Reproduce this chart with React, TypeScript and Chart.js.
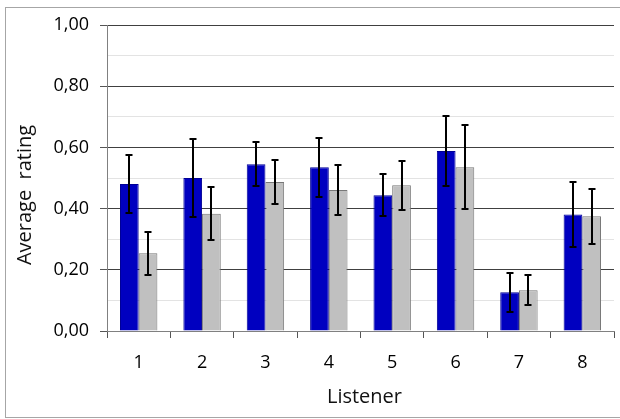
import React, { useEffect, useRef } from "react";
import { Chart, registerables } from "chart.js";

Chart.register(...registerables);

// Listener categories along the x axis
const listeners = ["1", "2", "3", "4", "5", "6", "7", "8"];

// Average ratings, first condition (blue) with its error half-widths
const ratingsA = [0.48, 0.5, 0.545, 0.535, 0.444, 0.588, 0.127, 0.381];
const errorsA = [0.096, 0.128, 0.072, 0.097, 0.069, 0.115, 0.064, 0.105];

// Average ratings, second condition (grey) with its error half-widths
const ratingsB = [0.254, 0.383, 0.487, 0.461, 0.476, 0.535, 0.133, 0.375];
const errorsB = [0.071, 0.087, 0.073, 0.082, 0.08, 0.137, 0.049, 0.09];

const yTitle = "Average  rating";
const xTitle = "Listener";

const FONT = "'Open Sans', 'DejaVu Sans', sans-serif";

const errorBarPlugin = {
  id: "errorBars",
  afterDatasetsDraw(chart: any) {
    const ctx = chart.ctx;
    const yScale = chart.scales.y;
    ctx.save();
    ctx.strokeStyle = "#000";
    ctx.lineWidth = 2;
    chart.data.datasets.forEach((ds: any, di: number) => {
      const meta = chart.getDatasetMeta(di);
      meta.data.forEach((bar: any, i: number) => {
        const v = ds.data[i];
        const e = ds.errors[i];
        const x = Math.round(bar.x);
        const top = Math.round(yScale.getPixelForValue(v + e));
        const bot = Math.round(yScale.getPixelForValue(v - e));
        ctx.beginPath();
        ctx.moveTo(x, top);
        ctx.lineTo(x, bot);
        ctx.moveTo(x - 3.5, top);
        ctx.lineTo(x + 3.5, top);
        ctx.moveTo(x - 3.5, bot);
        ctx.lineTo(x + 3.5, bot);
        ctx.stroke();
      });
    });
    ctx.restore();
  },
};

const framePlugin = {
  id: "frameAndTitles",
  afterDraw(chart: any) {
    const ctx = chart.ctx;
    const area = chart.chartArea;
    ctx.save();
    // outer frame
    ctx.strokeStyle = "#a6a6a6";
    ctx.lineWidth = 1;
    ctx.strokeRect(5.5, 7.5, 700, 410);
    // axis titles
    ctx.fillStyle = "#111";
    ctx.font = `20px ${FONT}`;
    ctx.textAlign = "center";
    ctx.textBaseline = "middle";
    ctx.fillText(xTitle, (area.left + area.right) / 2 + 4, 397);
    ctx.translate(25, 195);
    ctx.rotate(-Math.PI / 2);
    ctx.fillText(yTitle, 0, 0);
    ctx.restore();
  },
};

export default function App() {
  const canvasRef = useRef<HTMLCanvasElement | null>(null);

  useEffect(() => {
    const canvas = canvasRef.current;
    if (!canvas) return;
    const chart = new Chart(canvas, {
      type: "bar",
      data: {
        labels: listeners,
        datasets: [
          {
            label: "A",
            data: ratingsA,
            errors: errorsA,
            backgroundColor: "rgb(0,0,192)",
            borderColor: "rgb(0,0,150)",
            borderWidth: 1,
            categoryPercentage: 0.59,
            barPercentage: 1,
          } as any,
          {
            label: "B",
            data: ratingsB,
            errors: errorsB,
            backgroundColor: "rgb(192,192,192)",
            borderColor: "rgb(120,120,120)",
            borderWidth: 1,
            categoryPercentage: 0.59,
            barPercentage: 1,
          } as any,
        ],
      },
      options: {
        responsive: false,
        animation: false,
        layout: { padding: { top: 25, right: 6, left: 0, bottom: 0 } },
        plugins: {
          legend: { display: false },
          tooltip: { enabled: false },
          title: { display: false },
        },
        scales: {
          x: {
            type: "category",
            grid: {
              offset: true,
              drawOnChartArea: false,
              drawTicks: true,
              tickLength: 7,
              tickColor: "#555",
            },
            border: { color: "#808080", width: 1 },
            ticks: {
              color: "#000",
              font: { family: FONT, size: 18 },
              padding: 14,
              maxRotation: 0,
            },
            afterFit: (scale: any) => {
              scale.height = 88;
            },
          },
          y: {
            min: 0,
            max: 1,
            grid: {
              color: (c: any) => (c.index % 2 === 0 ? "#404040" : "#e3e3e3"),
              tickColor: (c: any) => (c.index % 2 === 0 ? "#555" : "rgba(0,0,0,0)"),
              tickLength: 7,
              lineWidth: 1,
            },
            border: { color: "#808080", width: 1 },
            ticks: {
              stepSize: 0.1,
              color: "#000",
              font: { family: FONT, size: 18 },
              padding: 11,
              callback: (value: any, index: number) =>
                index % 2 === 0 ? Number(value).toFixed(2).replace(".", ",") : "",
            },
            afterFit: (scale: any) => {
              scale.width = 107;
            },
          },
        },
      } as any,
      plugins: [errorBarPlugin, framePlugin],
    });
    return () => chart.destroy();
  }, []);

  return (
    <div style={{ position: "absolute", left: 0, top: 0, width: 620, height: 419, background: "#fff" }}>
      <canvas ref={canvasRef} width={620} height={419} style={{ display: "block" }} />
    </div>
  );
}
